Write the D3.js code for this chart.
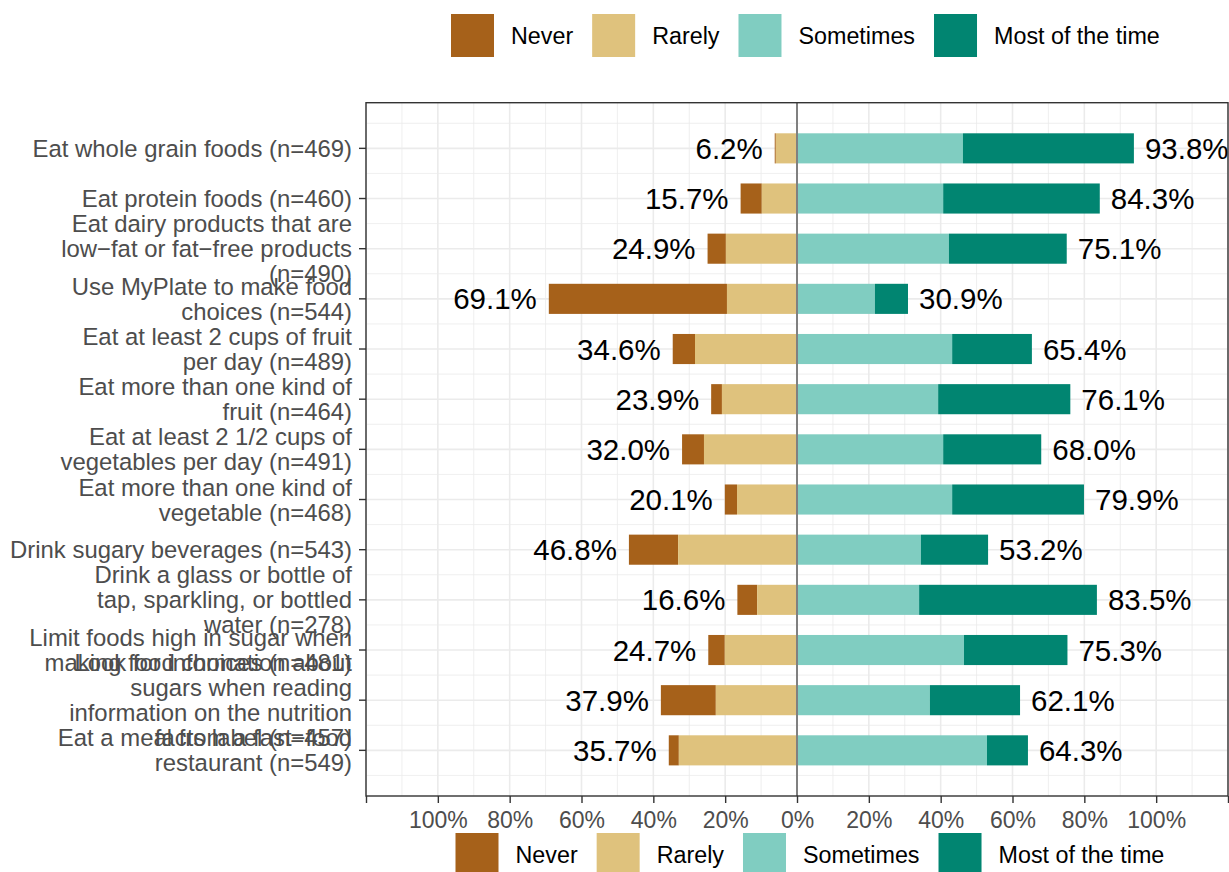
<!DOCTYPE html>
<html>
<head>
<meta charset="utf-8">
<script src="https://cdn.jsdelivr.net/npm/d3@7"></script>
<style>
  body { margin: 0; background: #fff; }
  text { font-family: "Liberation Sans", Arial, Helvetica, sans-serif; }
</style>
</head>
<body>
<svg width="1229" height="872"></svg>
<script>
// survey items, top to bottom (wrapped lines separated by \n)
var items = [
  "Eat whole grain foods (n=469)",
  "Eat protein foods (n=460)",
  "Eat dairy products that are\nlow\u2212fat or fat\u2212free products\n(n=490)",
  "Use MyPlate to make food\nchoices (n=544)",
  "Eat at least 2 cups of fruit\nper day (n=489)",
  "Eat more than one kind of\nfruit (n=464)",
  "Eat at least 2 1/2 cups of\nvegetables per day (n=491)",
  "Eat more than one kind of\nvegetable (n=468)",
  "Drink sugary beverages (n=543)",
  "Drink a glass or bottle of\ntap, sparkling, or bottled\nwater (n=278)",
  "Limit foods high in sugar when\nmaking food choices (n=481)",
  "Look for information about\nsugars when reading\ninformation on the nutrition\nfacts label (n=457)",
  "Eat a meal from a fast\u2212food\nrestaurant (n=549)"
];
var never     = [0.3, 5.9, 5.1, 49.6, 6.2, 3.0, 6.1, 3.4, 13.7, 5.5, 4.6, 15.3, 2.8];
var rarely    = [5.9, 9.8, 19.8, 19.5, 28.4, 20.9, 25.9, 16.7, 33.1, 11.1, 20.1, 22.6, 32.9];
var sometimes = [46.2, 40.7, 42.3, 21.7, 43.2, 39.3, 40.7, 43.2, 34.5, 34.0, 46.5, 37.0, 52.9];
var most      = [47.6, 43.6, 32.8, 9.2, 22.2, 36.8, 27.3, 36.7, 18.7, 49.5, 28.8, 25.1, 11.4];

var levels = ["Never", "Rarely", "Sometimes", "Most of the time"];
var colors = ["#A6611A", "#DFC27D", "#80CDC1", "#018571"];
var xTicks = [-120, -100, -80, -60, -40, -20, 0, 20, 40, 60, 80, 100, 120];

var svg = d3.select("svg");
// "top" is taken by window.top, so panel edges get a prefix
var pLeft = 366, pRight = 1228, pTop = 102.7, pBottom = 796;

var x = d3.scaleLinear().domain([-120, 120]).range([pLeft, pRight]);
var y = d3.scalePoint().domain(d3.range(items.length)).range([pTop, pBottom]).padding(0.91);
var step = y.step();
var bh = step * 0.6;

// grid
var grid = svg.append("g");
grid.selectAll(".vmin").data(d3.range(-110, 120, 20)).enter().append("line")
  .attr("x1", d => x(d)).attr("x2", d => x(d)).attr("y1", pTop).attr("y2", pBottom)
  .attr("stroke", "#EBEBEB").attr("stroke-width", 0.8);
grid.selectAll(".hmin").data(d3.range(items.length + 1)).enter().append("line")
  .attr("x1", pLeft).attr("x2", pRight)
  .attr("y1", d => y(0) + (d - 0.5) * step).attr("y2", d => y(0) + (d - 0.5) * step)
  .attr("stroke", "#EBEBEB").attr("stroke-width", 0.8);
grid.selectAll(".vmaj").data(xTicks).enter().append("line")
  .attr("x1", d => x(d)).attr("x2", d => x(d)).attr("y1", pTop).attr("y2", pBottom)
  .attr("stroke", "#EBEBEB").attr("stroke-width", 1.6);
grid.selectAll(".hmaj").data(d3.range(items.length)).enter().append("line")
  .attr("x1", pLeft).attr("x2", pRight).attr("y1", d => y(d)).attr("y2", d => y(d))
  .attr("stroke", "#EBEBEB").attr("stroke-width", 1.6);

// bars
var segs = [];
items.forEach(function(d, i) {
  segs.push({ i: i, k: 0, x0: -(never[i] + rarely[i]), x1: -rarely[i] });
  segs.push({ i: i, k: 1, x0: -rarely[i], x1: 0 });
  segs.push({ i: i, k: 2, x0: 0, x1: sometimes[i] });
  segs.push({ i: i, k: 3, x0: sometimes[i], x1: sometimes[i] + most[i] });
});
svg.append("g").selectAll("rect").data(segs).enter().append("rect")
  .attr("x", d => x(d.x0))
  .attr("width", d => x(d.x1) - x(d.x0))
  .attr("y", d => y(d.i) - bh / 2)
  .attr("height", bh)
  .attr("fill", d => colors[d.k]);

// zero line
svg.append("line")
  .attr("x1", x(0)).attr("x2", x(0)).attr("y1", pTop).attr("y2", pBottom)
  .attr("stroke", "#808080").attr("stroke-width", 2);

// percent labels
var lab = svg.append("g").attr("font-size", 29.5).attr("fill", "#000");
lab.selectAll(".neg").data(items).enter().append("text")
  .attr("x", (d, i) => x(-(never[i] + rarely[i])) - 12)
  .attr("y", (d, i) => y(i)).attr("dy", "0.36em")
  .attr("text-anchor", "end")
  .text((d, i) => (never[i] + rarely[i]).toFixed(1) + "%");
lab.selectAll(".pos").data(items).enter().append("text")
  .attr("x", (d, i) => x(sometimes[i] + most[i]) + 11)
  .attr("y", (d, i) => y(i)).attr("dy", "0.36em")
  .text((d, i) => (sometimes[i] + most[i]).toFixed(1) + "%");

// panel border
svg.append("rect")
  .attr("x", pLeft).attr("y", pTop).attr("width", pRight - pLeft).attr("height", pBottom - pTop)
  .attr("fill", "none").attr("stroke", "#333333").attr("stroke-width", 1.4);

// x axis
var xa = svg.append("g").attr("transform", "translate(0," + pBottom + ")")
  .call(d3.axisBottom(x).tickValues(xTicks).tickSize(7).tickPadding(9)
    .tickFormat(d => Math.abs(d) === 120 ? "" : Math.abs(d) + "%"));
xa.select(".domain").remove();
xa.selectAll("line").attr("stroke", "#333333").attr("stroke-width", 1.4);
xa.selectAll("text").attr("fill", "#4D4D4D").attr("font-size", 23)
  .attr("font-family", "'Liberation Sans', Arial, sans-serif");

// y axis
var ya = svg.append("g");
ya.selectAll("line").data(items).enter().append("line")
  .attr("x1", pLeft - 7).attr("x2", pLeft)
  .attr("y1", (d, i) => y(i)).attr("y2", (d, i) => y(i))
  .attr("stroke", "#333333").attr("stroke-width", 1.4);
var lh = 25;
ya.selectAll("text").data(items).enter().append("text")
  .attr("text-anchor", "end").attr("fill", "#4D4D4D").attr("font-size", 23.9)
  .each(function(d, i) {
    var lines = d.split("\n");
    var y0 = y(i) - (lines.length - 1) * lh / 2;
    var t = d3.select(this);
    lines.forEach(function(s, j) {
      t.append("tspan").attr("x", 352).attr("y", y0 + j * lh).attr("dy", "0.36em").text(s);
    });
  });

// legends
function legend(x0, yTop) {
  var g = svg.append("g");
  var cx = x0;
  levels.forEach(function(name, k) {
    g.append("rect").attr("x", cx).attr("y", yTop).attr("width", 43).attr("height", 43)
      .attr("fill", colors[k]);
    var t = g.append("text").attr("x", cx + 60).attr("y", yTop + 21.5).attr("dy", "0.36em")
      .attr("font-size", 23.3).attr("fill", "#000").text(name);
    cx = cx + 60 + t.node().getComputedTextLength() + 19;
  });
}
legend(451, 14);
legend(455.5, 833);
</script>
</body>
</html>
